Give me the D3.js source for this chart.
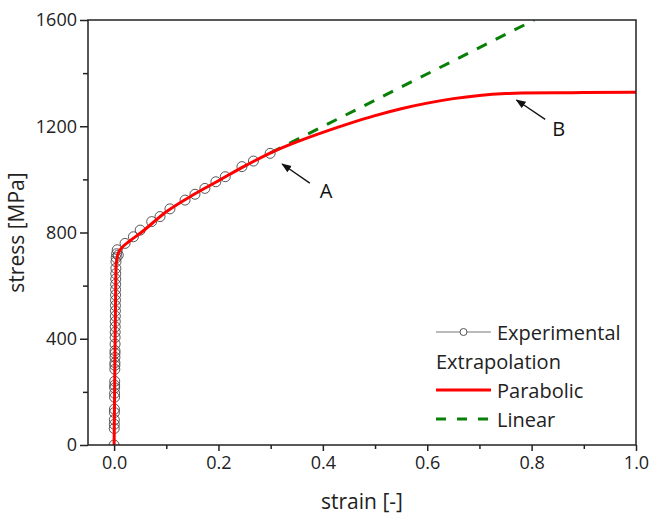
<!DOCTYPE html>
<html>
<head>
<meta charset="utf-8">
<script src="https://cdn.jsdelivr.net/npm/d3@7"></script>
<style>
  html, body { margin: 0; padding: 0; background: #fff; }
  svg { display: block; font-family: "Open Sans", "Noto Sans", sans-serif; }
</style>
</head>
<body>
<svg id="chart" width="651" height="516"></svg>
<script>
// Experimental stress-strain points (strain [-], stress [MPa])
const expStrain = [
  0.0000, 0.0003, 0.0004, 0.0005, 0.0006, 0.0007, 0.0009, 0.0010, 0.0011, 0.0011,
  0.0012, 0.0014, 0.0015, 0.0016, 0.0017, 0.0017, 0.0018, 0.0019, 0.0020, 0.0021,
  0.0022, 0.0023, 0.0024, 0.0025, 0.0026, 0.0027, 0.0028, 0.0029, 0.0030, 0.0031,
  0.0032, 0.0034, 0.0036, 0.0040, 0.0048, 0.0060,
  0.008, 0.021, 0.037, 0.050, 0.072, 0.088, 0.107, 0.136, 0.155, 0.174,
  0.195, 0.213, 0.245, 0.267, 0.299
];
const expStress = [
  0, 62, 78, 95, 122, 135, 180, 195, 215, 225,
  240, 285, 300, 310, 330, 345, 355, 380, 405, 425,
  445, 465, 485, 505, 525, 545, 565, 585, 605, 625,
  645, 665, 690, 705, 720, 735,
  715, 759, 784, 809, 841, 860, 889, 922, 944, 966,
  991, 1010, 1048, 1069, 1098
];

// Parabolic extrapolation (fitted curve, saturating near 1328 MPa)
const paraStrain = [0, 0.002, 0.004, 0.008, 0.013, 0.03, 0.05, 0.1, 0.15, 0.2, 0.25, 0.3,
  0.35, 0.4, 0.45, 0.5, 0.55, 0.6, 0.65, 0.7, 0.75, 0.78, 0.85, 0.9, 1.0];
const paraStress = [0, 400, 680, 722, 738, 768, 797, 878, 940, 995, 1050, 1100,
  1141, 1177, 1210, 1240, 1266, 1287, 1304, 1316, 1323, 1325, 1326, 1327, 1328];

// Linear extrapolation
const linStrain = [0.3, 0.805];
const linStress = [1100, 1600];

// Axis ticks
const xMajor = [0, 0.2, 0.4, 0.6, 0.8, 1.0];
const xMinor = [0.1, 0.3, 0.5, 0.7, 0.9];
const yMajor = [0, 400, 800, 1200, 1600];
const yMinor = [200, 600, 1000, 1400];

// Annotations: arrow tail -> tip, label position
const notes = [
  { label: "A", tail: [0.375, 986], tip: [0.322, 1058], text: [0.406, 960] },
  { label: "B", tail: [0.826, 1226], tip: [0.771, 1299], text: [0.852, 1193] }
];

const svg = d3.select("#chart");
const margin = { left: 88, right: 15, top: 20, bottom: 71 };
const W = 651, H = 516;

const x = d3.scaleLinear().domain([-0.05, 1.0]).range([margin.left, W - margin.right]);
const y = d3.scaleLinear().domain([0, 1600]).range([H - margin.bottom, margin.top]);

const defs = svg.append("defs");
defs.append("marker")
  .attr("id", "arrowhead")
  .attr("viewBox", "0 0 10 10")
  .attr("refX", 9).attr("refY", 5)
  .attr("markerWidth", 10).attr("markerHeight", 10)
  .attr("markerUnits", "userSpaceOnUse")
  .attr("orient", "auto")
  .append("path").attr("d", "M0,1.2 L10,5 L0,8.8 Z").attr("fill", "#111");

defs.append("clipPath").attr("id", "plotClip")
  .append("rect")
  .attr("x", x(-0.05)).attr("y", y(1600))
  .attr("width", x(1.0) - x(-0.05)).attr("height", y(0) - y(1600));

const plot = svg.append("g").attr("clip-path", "url(#plotClip)");

const line = d3.line().x(d => x(d[0])).y(d => y(d[1]));

// Linear extrapolation (dashed green)
plot.append("path")
  .datum(d3.zip(linStrain, linStress))
  .attr("d", line)
  .attr("fill", "none").attr("stroke", "#088008")
  .attr("stroke-width", 3).attr("stroke-dasharray", "11,10");

// Experimental circles
plot.append("g").selectAll("circle")
  .data(d3.zip(expStrain, expStress))
  .join("circle")
  .attr("cx", d => x(d[0])).attr("cy", d => y(d[1]))
  .attr("r", 5)
  .attr("fill", "none").attr("stroke", "#444").attr("stroke-width", 0.9);

// Parabolic extrapolation (solid red)
plot.append("path")
  .datum(d3.zip(paraStrain, paraStress))
  .attr("d", line.curve(d3.curveMonotoneX))
  .attr("fill", "none").attr("stroke", "#ff0000").attr("stroke-width", 3);

// Frame
svg.append("rect")
  .attr("x", x(-0.05)).attr("y", y(1600))
  .attr("width", x(1.0) - x(-0.05)).attr("height", y(0) - y(1600))
  .attr("fill", "none").attr("stroke", "#222").attr("stroke-width", 1.5);

// Axes
svg.append("g").attr("transform", `translate(0,${y(0)})`)
  .call(d3.axisBottom(x).tickValues(xMajor).tickFormat(d3.format(".1f")).tickSize(6).tickPadding(5));
svg.append("g").attr("transform", `translate(0,${y(0)})`)
  .call(d3.axisBottom(x).tickValues(xMinor).tickFormat("").tickSize(4));
svg.append("g").attr("transform", `translate(${x(-0.05)},0)`)
  .call(d3.axisLeft(y).tickValues(yMajor).tickFormat(d3.format("d")).tickSize(8).tickPadding(3));
svg.append("g").attr("transform", `translate(${x(-0.05)},0)`)
  .call(d3.axisLeft(y).tickValues(yMinor).tickFormat("").tickSize(5));

svg.selectAll(".domain").remove();
svg.selectAll(".tick line").attr("stroke", "#222").attr("stroke-width", 1.5);
svg.selectAll(".tick text").attr("fill", "#222").style("font-size", "18px")
  .style("font-family", "'Open Sans', 'Noto Sans', sans-serif");

// Axis titles
svg.append("text")
  .attr("x", (x(-0.05) + x(1.0)) / 2).attr("y", 509)
  .attr("text-anchor", "middle").attr("fill", "#222")
  .style("font-size", "21px").text("strain [-]");
svg.append("text")
  .attr("transform", `translate(24,${(y(0) + y(1600)) / 2}) rotate(-90)`)
  .attr("text-anchor", "middle").attr("fill", "#222")
  .style("font-size", "21px").text("stress [MPa]");

// Annotations
const ann = svg.append("g");
notes.forEach(n => {
  ann.append("line")
    .attr("x1", x(n.tail[0])).attr("y1", y(n.tail[1]))
    .attr("x2", x(n.tip[0])).attr("y2", y(n.tip[1]))
    .attr("stroke", "#111").attr("stroke-width", 1.3)
    .attr("marker-end", "url(#arrowhead)");
  ann.append("text")
    .attr("x", x(n.text[0])).attr("y", y(n.text[1]))
    .attr("text-anchor", "middle").attr("dominant-baseline", "central")
    .attr("fill", "#111").style("font-size", "20px").text(n.label);
});

// Legend
const lg = svg.append("g").attr("transform", "translate(436,0)");
const lx0 = 0, lx1 = 55, tx = 61;
lg.append("line").attr("x1", lx0).attr("x2", lx1).attr("y1", 332).attr("y2", 332)
  .attr("stroke", "#666").attr("stroke-width", 0.9);
lg.append("circle").attr("cx", (lx0 + lx1) / 2).attr("cy", 332).attr("r", 3.5)
  .attr("fill", "#fff").attr("stroke", "#444").attr("stroke-width", 0.9);
lg.append("text").attr("x", tx).attr("y", 332).attr("dominant-baseline", "central")
  .attr("fill", "#222").style("font-size", "20px").text("Experimental");
lg.append("text").attr("x", 0).attr("y", 361).attr("dominant-baseline", "central")
  .attr("fill", "#222").style("font-size", "20px").text("Extrapolation");
lg.append("line").attr("x1", lx0).attr("x2", lx1).attr("y1", 390).attr("y2", 390)
  .attr("stroke", "#ff0000").attr("stroke-width", 3);
lg.append("text").attr("x", tx).attr("y", 390).attr("dominant-baseline", "central")
  .attr("fill", "#222").style("font-size", "20px").text("Parabolic");
lg.append("line").attr("x1", lx0).attr("x2", lx1).attr("y1", 419).attr("y2", 419)
  .attr("stroke", "#088008").attr("stroke-width", 3).attr("stroke-dasharray", "10,11");
lg.append("text").attr("x", tx).attr("y", 419).attr("dominant-baseline", "central")
  .attr("fill", "#222").style("font-size", "20px").text("Linear");
</script>
</body>
</html>
